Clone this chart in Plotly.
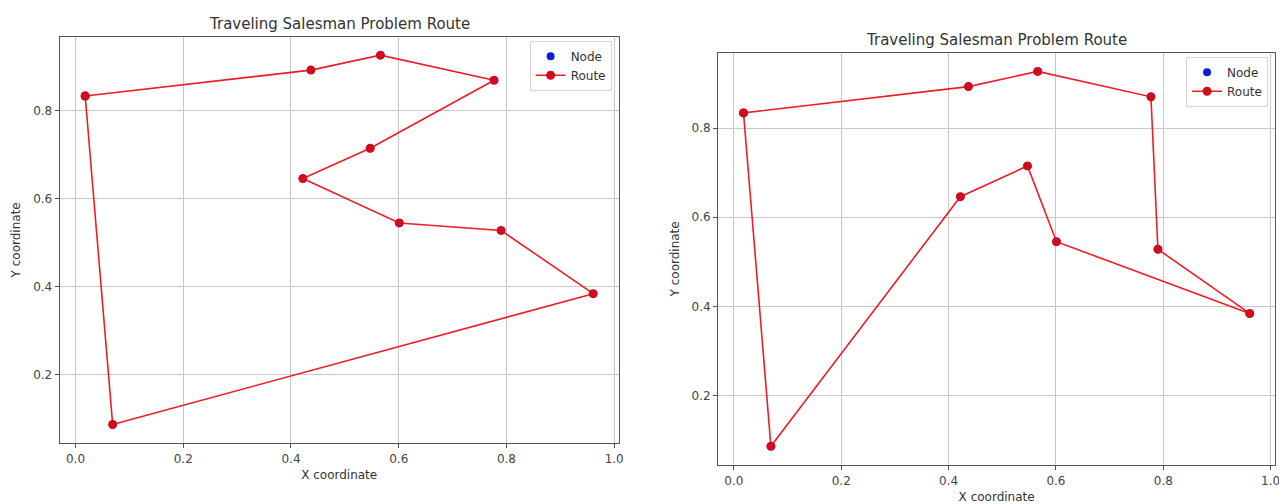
import plotly.graph_objects as go

# Node coordinates
node_x = [0.018, 0.437, 0.566, 0.777, 0.547, 0.422, 0.601, 0.790, 0.961, 0.069]
node_y = [0.834, 0.893, 0.927, 0.870, 0.715, 0.646, 0.545, 0.528, 0.384, 0.086]

# Visiting orders (indices into the node lists)
route_left = [0, 1, 2, 3, 4, 5, 6, 7, 8, 9, 0]
route_right = [0, 1, 2, 3, 7, 8, 6, 4, 5, 9, 0]

title_text = "Traveling Salesman Problem Route"
x_label = "X coordinate"
y_label = "Y coordinate"
x_ticks = [0.0, 0.2, 0.4, 0.6, 0.8, 1.0]
y_ticks = [0.2, 0.4, 0.6, 0.8]

# page has an 8px body margin; work in window pixels and convert
OFF = 8
FW, FH = 1287 - OFF, 504 - OFF
FONT = "DejaVu Sans"
LINE_RED = "#ee1c25"
MARK_RED = "#d10a1e"
NODE_BLUE = "#0a1fd6"


def px(x):
    return (x - OFF) / FW


def py(y):
    return (FH - (y - OFF)) / FH


def pad_range(vals, frac=0.05):
    lo, hi = min(vals), max(vals)
    m = (hi - lo) * frac
    return [lo - m, hi + m]


xr = pad_range(node_x)
yr = pad_range(node_y)

fig = go.Figure()

panels = [
    dict(route=route_left, xa="x", ya="y", legend="legend",
         dom_x=[px(60), px(621)], dom_y=[py(443), py(36.7)]),
    dict(route=route_right, xa="x2", ya="y2", legend="legend2",
         dom_x=[px(721), px(1280)], dom_y=[py(465), py(52.7)]),
]

for p in panels:
    fig.add_trace(go.Scatter(
        x=node_x, y=node_y, mode="markers", name="Node",
        marker=dict(color=NODE_BLUE, size=8),
        xaxis=p["xa"], yaxis=p["ya"], legend=p["legend"],
    ))
    fig.add_trace(go.Scatter(
        x=[node_x[i] for i in p["route"]], y=[node_y[i] for i in p["route"]],
        mode="lines+markers", name="Route",
        line=dict(color=LINE_RED, width=1.6),
        marker=dict(color=MARK_RED, size=9),
        xaxis=p["xa"], yaxis=p["ya"], legend=p["legend"],
    ))

axis_common = dict(
    showgrid=True, gridcolor="#c8c8c8", gridwidth=1,
    showline=True, linecolor="#555555", linewidth=1.3, mirror=True,
    ticks="outside", ticklen=4, tickcolor="#555555", tickwidth=1,
    tickformat=".1f", zeroline=False,
    tickfont=dict(family=FONT, size=12, color="#444444"),
)

layout = dict(
    width=FW, height=FH,
    margin=dict(l=0, r=0, t=0, b=0),
    paper_bgcolor="white", plot_bgcolor="white",
    font=dict(family=FONT, size=12, color="#333333"),
    showlegend=True,
)

for k, p in enumerate(panels):
    sfx = "" if k == 0 else "2"
    layout["xaxis" + sfx] = dict(
        axis_common, domain=p["dom_x"], range=xr, tickvals=x_ticks,
        anchor="y" + sfx,
        title=dict(text=x_label, standoff=6, font=dict(family=FONT, size=12, color="#333333")),
    )
    layout["yaxis" + sfx] = dict(
        axis_common, domain=p["dom_y"], range=yr, tickvals=y_ticks,
        anchor="x" + sfx,
        title=dict(text=y_label, standoff=9, font=dict(family=FONT, size=12, color="#333333")),
    )
    layout["legend" + sfx] = dict(
        x=p["dom_x"][1] - 7 / FW, y=p["dom_y"][1] - 4 / FH,
        xanchor="right", yanchor="top",
        bgcolor="rgba(255,255,255,0.85)", bordercolor="#d6d6d6", borderwidth=1,
        font=dict(family=FONT, size=12, color="#333333"),
        itemwidth=30, tracegroupgap=0,
    )

fig.update_layout(**layout)

# Panel titles
for p in panels:
    fig.add_annotation(
        text=title_text, xref="paper", yref="paper",
        x=(p["dom_x"][0] + p["dom_x"][1]) / 2, y=p["dom_y"][1] + 2 / FH,
        xanchor="center", yanchor="bottom", showarrow=False,
        font=dict(family=FONT, size=15, color="#333333"),
    )

fig.write_html("out.html")
